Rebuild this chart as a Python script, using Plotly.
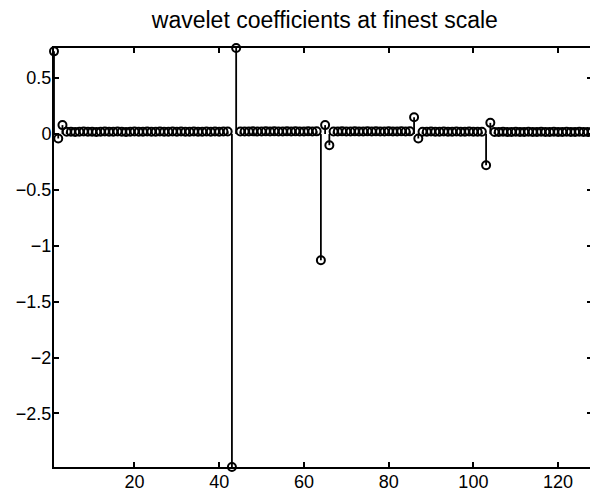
import plotly.graph_objects as go

# sample index 1..128
n_index = list(range(1, 129))

# wavelet coefficients at finest scale
coef = (
    [0.74, -0.04, 0.08]
    + [0.020, 0.021, 0.019, 0.020, 0.022, 0.021, 0.020, 0.019, 0.021, 0.022,
       0.020, 0.021, 0.022, 0.020, 0.019, 0.021, 0.022, 0.021, 0.020, 0.022,
       0.021, 0.020, 0.022, 0.021, 0.020, 0.022, 0.021, 0.022, 0.020, 0.021,
       0.022, 0.021, 0.020, 0.022, 0.021, 0.022, 0.021, 0.022, 0.023]      # 4..42
    + [-2.98, 0.77]                                                         # 43, 44
    + [0.022, 0.023, 0.022, 0.024, 0.023, 0.022, 0.024, 0.023, 0.024, 0.022,
       0.023, 0.024, 0.023, 0.024, 0.022, 0.023, 0.024, 0.023, 0.024]      # 45..63
    + [-1.13, 0.08, -0.10]                                                  # 64..66
    + [0.022, 0.023, 0.024, 0.022, 0.023, 0.024, 0.023, 0.022, 0.024, 0.023,
       0.024, 0.022, 0.023, 0.024, 0.023, 0.022, 0.024, 0.023, 0.024]      # 67..85
    + [0.15, -0.04]                                                         # 86, 87
    + [0.020, 0.021, 0.022, 0.020, 0.021, 0.022, 0.021, 0.020, 0.022, 0.021,
       0.020, 0.022, 0.021, 0.020, 0.021]                                   # 88..102
    + [-0.28, 0.10]                                                         # 103, 104
    + [0.018, 0.019, 0.020, 0.018, 0.019, 0.020, 0.019, 0.018, 0.020, 0.019,
       0.018, 0.020, 0.019, 0.018, 0.020, 0.019, 0.018, 0.020, 0.019, 0.018,
       0.020, 0.019, 0.018, 0.020]                                          # 105..128
)

x_ticks = [20, 40, 60, 80, 100, 120]
y_ticks = [-2.5, -2, -1.5, -1, -0.5, 0, 0.5]
y_tick_text = ["\u22122.5", "\u22122", "\u22121.5", "\u22121", "\u22120.5", "0", "0.5"]
title_text = "wavelet coefficients at finest scale"

stem_x, stem_y = [], []
for xi, yi in zip(n_index, coef):
    stem_x += [xi, xi, None]
    stem_y += [0, yi, None]

fig = go.Figure()
fig.add_trace(go.Scatter(x=stem_x, y=stem_y, mode="lines",
                         line=dict(color="black", width=1.8),
                         hoverinfo="skip", showlegend=False))
fig.add_trace(go.Scatter(x=n_index, y=coef, mode="markers",
                         marker=dict(symbol="circle-open", size=8,
                                     color="black", line=dict(width=2)),
                         showlegend=False, cliponaxis=False))

font = dict(family="Liberation Sans, Arial, sans-serif", color="black")
fig.update_layout(
    width=590, height=490,
    margin=dict(l=46, r=6, t=40, b=31, autoexpand=False),
    paper_bgcolor="white", plot_bgcolor="white",
    title=dict(text=title_text, x=0.537, xanchor="center", y=0.975, yanchor="middle",
               font=dict(size=23, **font)),
    font=dict(size=18, **font),
)
fig.update_xaxes(range=[1, 128], tickvals=x_ticks, ticks="inside", ticklen=5,
                 showline=True, linecolor="black", linewidth=2, mirror="ticks",
                 showgrid=False, zeroline=False, tickcolor="black", tickwidth=1.5,
                 automargin=False, ticklabelstandoff=-3,
                 tickfont=dict(size=18, **font))
fig.update_yaxes(range=[-2.98, 0.77], tickvals=y_ticks, ticktext=y_tick_text,
                 ticks="inside", ticklen=5,
                 showline=True, linecolor="black", linewidth=2, mirror="ticks",
                 showgrid=False, zeroline=False, tickcolor="black", tickwidth=1.5,
                 automargin=False, ticklabelstandoff=-3,
                 tickfont=dict(size=18, **font))

fig.write_html("out.html")
